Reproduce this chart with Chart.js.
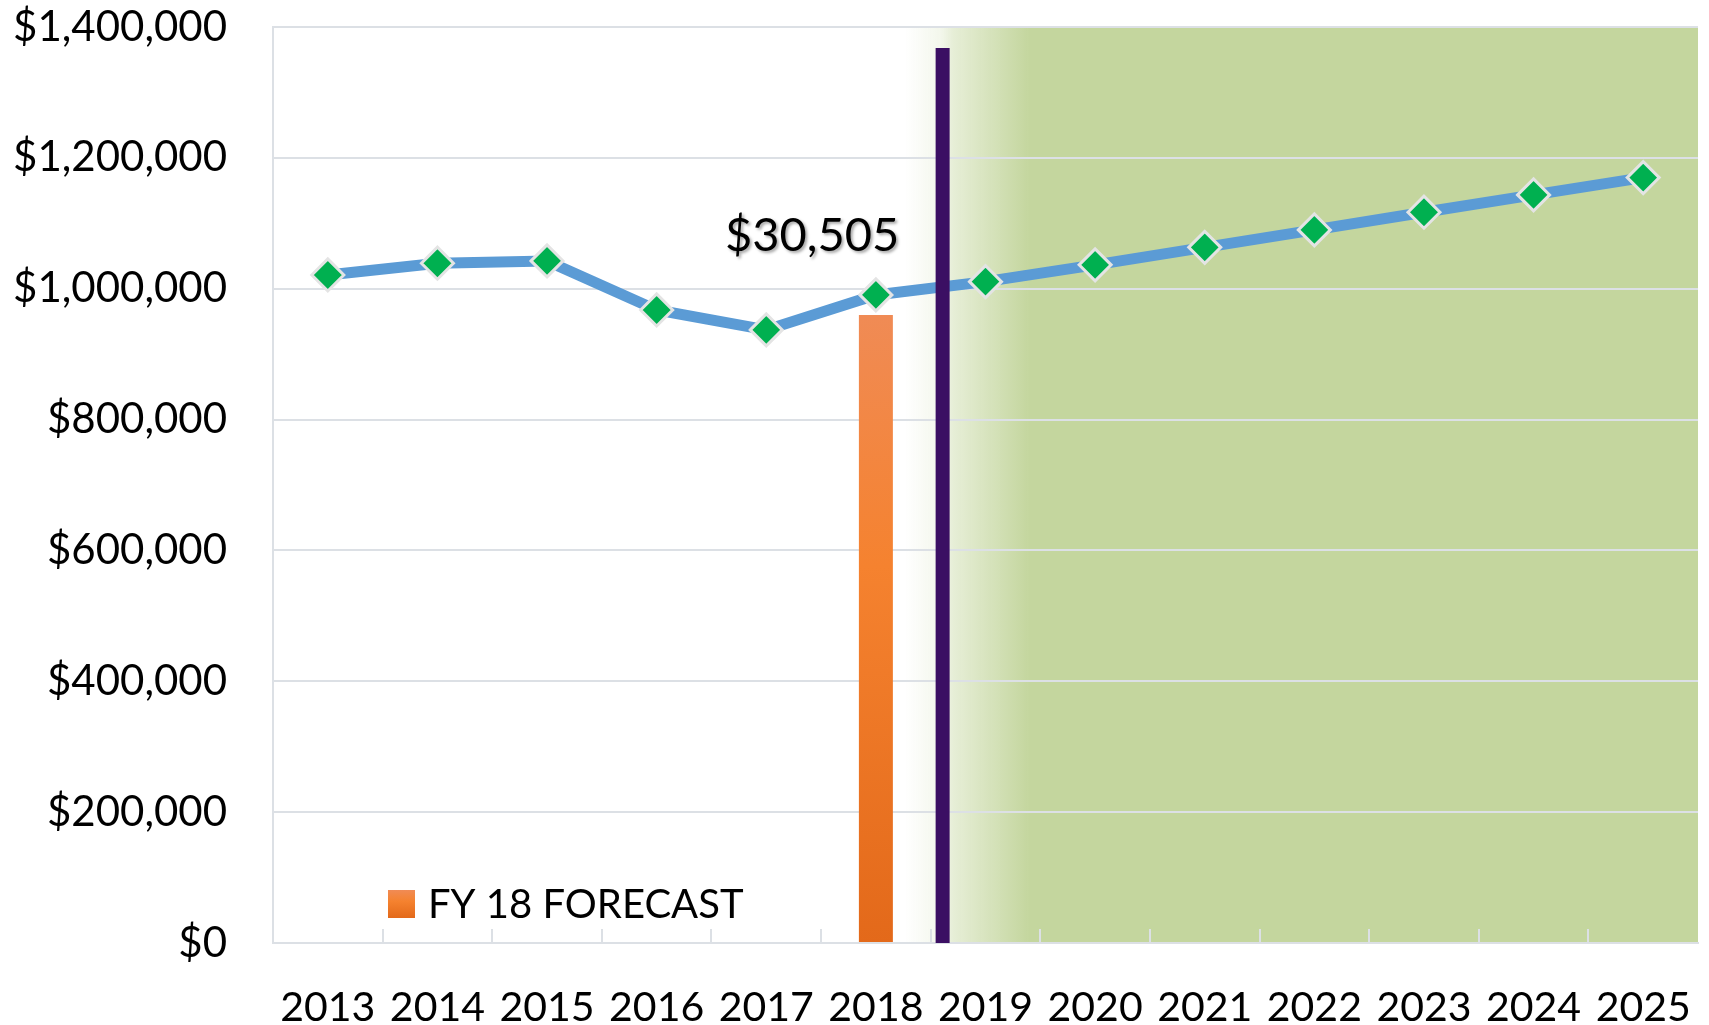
<!DOCTYPE html>
<html>
<head>
<meta charset="utf-8">
<script src="https://cdn.jsdelivr.net/npm/chart.js@4.4.1/dist/chart.umd.min.js"></script>
<style>
html,body{margin:0;padding:0;background:#ffffff;}
canvas{display:block;}
</style>
</head>
<body>
<canvas id="c" width="1709" height="1025"></canvas>
<script>
// ---- data ----
const years = ['2013','2014','2015','2016','2017','2018','2019','2020','2021','2022','2023','2024','2025'];
const revenue = [1021000, 1039000, 1042500, 967500, 937000, 990500, 1010800, 1036500, 1063200, 1089900, 1116900, 1143400, 1169800];
const forecastLabel = 'FY 18 FORECAST';
const forecast = [null, null, null, null, null, 960000, null, null, null, null, null, null, null];
const gapLabel = '$30,505';
const gapAnchor = [4.22, 1080500];          // [category position, value]
const dividerX = [5.56, 5.56];
const dividerY = [0, 1368000];
const yTickValues = [0, 200000, 400000, 600000, 800000, 1000000, 1200000, 1400000];

// ---- styles ----
const FONT = 'Lato, "Open Sans", sans-serif';
const GRID = '#DCE0E5';
const GREEN = [196, 214, 158];
// forecast shading: [category position, opacity]
const shadeStops = [[5.17, 0], [5.54, 0.2], [5.67, 0.42], [6.07, 0.71], [6.38, 0.95], [6.45, 1]];

function fmtMoney(v) { return '$' + Math.round(v).toLocaleString('en-US'); }

function orangeGradient(ctx, top, bottom) {
  const g = ctx.createLinearGradient(0, top, 0, bottom);
  g.addColorStop(0, '#F08B55');
  g.addColorStop(0.4, '#F5822F');
  g.addColorStop(1, '#E3691A');
  return g;
}

const shadePlugin = {
  id: 'shade',
  beforeDraw(chart) {
    const ca = chart.chartArea; if (!ca) return;
    const x2 = chart.scales.x2;
    const xs = x2.getPixelForValue(shadeStops[0][0]);
    const ctx = chart.ctx;
    ctx.save();
    const g = ctx.createLinearGradient(xs, 0, ca.right, 0);
    const c = GREEN.join(',');
    for (const [pos, a] of shadeStops) {
      const f = (x2.getPixelForValue(pos) - xs) / (ca.right - xs);
      g.addColorStop(Math.min(1, Math.max(0, f)), `rgba(${c},${a})`);
    }
    g.addColorStop(1, `rgba(${c},1)`);
    ctx.fillStyle = g;
    ctx.fillRect(xs, ca.top, ca.right - xs, ca.bottom - ca.top);
    ctx.restore();
  },
  beforeDatasetsDraw(chart) {
    const ca = chart.chartArea;
    const x = chart.scales.x;
    const ctx = chart.ctx;
    ctx.save();
    ctx.strokeStyle = GRID;
    ctx.lineWidth = 2;
    for (let i = 1; i < years.length; i++) {
      const px = Math.round((x.getPixelForTick(i - 1) + x.getPixelForTick(i)) / 2);
      ctx.beginPath();
      ctx.moveTo(px, ca.bottom);
      ctx.lineTo(px, ca.bottom - 14);
      ctx.stroke();
    }
    ctx.restore();
  },
  afterDraw(chart) {
    const ca = chart.chartArea;
    const ctx = chart.ctx;
    const x2 = chart.scales.x2, y = chart.scales.y;
    ctx.save();
    ctx.font = '47px ' + FONT;
    ctx.textAlign = 'center';
    ctx.textBaseline = 'middle';
    ctx.fillStyle = '#000000';
    ctx.shadowColor = 'rgba(0,0,0,0.35)';
    ctx.shadowBlur = 3;
    ctx.shadowOffsetX = 2;
    ctx.shadowOffsetY = 2;
    ctx.fillText(gapLabel, x2.getPixelForValue(gapAnchor[0]), y.getPixelForValue(gapAnchor[1]));
    ctx.restore();
    ctx.save();
    const lx = ca.left + 115, ly = ca.bottom - 53;
    ctx.fillStyle = orangeGradient(ctx, ly, ly + 28);
    ctx.fillRect(lx, ly, 27, 28);
    ctx.font = '40px ' + FONT;
    ctx.fillStyle = '#000000';
    ctx.textAlign = 'left';
    ctx.textBaseline = 'middle';
    ctx.fillText(forecastLabel, lx + 40, ly + 15);
    ctx.restore();
  }
};

const chart = new Chart(document.getElementById('c'), {
  type: 'bar',
  data: {
    labels: years,
    datasets: [
      {
        type: 'line', label: 'divider',
        data: dividerX.map((xv, i) => ({ x: xv, y: dividerY[i] })),
        xAxisID: 'x2', yAxisID: 'y',
        borderColor: '#3B0F63', borderWidth: 14, borderCapStyle: 'butt',
        pointRadius: 0, fill: false, order: 0
      },
      {
        type: 'line', label: 'Revenue',
        data: revenue,
        xAxisID: 'x', yAxisID: 'y',
        borderColor: '#5B9BD5', borderWidth: 11, tension: 0,
        pointStyle: 'rectRot', pointRadius: 16,
        pointBackgroundColor: '#00B050', pointBorderColor: '#E4E4E4', pointBorderWidth: 3,
        fill: false, order: 1
      },
      {
        type: 'bar', label: forecastLabel,
        data: forecast,
        xAxisID: 'x', yAxisID: 'y',
        backgroundColor: (c) => {
          const ch = c.chart; const ca = ch.chartArea;
          if (!ca) return '#F07A30';
          const top = ch.scales.y.getPixelForValue(Math.max(...forecast.filter(v => v !== null)));
          return orangeGradient(ch.ctx, top, ca.bottom);
        },
        borderWidth: 0, grouped: false,
        barPercentage: 0.31, categoryPercentage: 1.0,
        order: 2
      }
    ]
  },
  options: {
    responsive: false,
    animation: false,
    devicePixelRatio: 1,
    layout: { autoPadding: false, padding: { top: 27, right: 11, left: 0, bottom: 0 } },
    plugins: { legend: { display: false }, tooltip: { enabled: false } },
    scales: {
      x: {
        type: 'category', offset: true,
        grid: { display: true, drawOnChartArea: false, drawTicks: true, tickLength: 40, tickColor: 'rgba(0,0,0,0)' },
        border: { display: true, color: GRID, width: 2 },
        ticks: { color: '#000000', font: { family: FONT, size: 41 }, padding: 0, maxRotation: 0, autoSkip: false },
        afterFit(s) { s.height = 82; }
      },
      x2: { type: 'linear', display: false, min: -0.5, max: 12.5 },
      y: {
        type: 'linear',
        min: yTickValues[0],
        max: yTickValues[yTickValues.length - 1],
        afterBuildTicks(s) { s.ticks = yTickValues.map(v => ({ value: v })); },
        grid: { color: GRID, lineWidth: 2, drawTicks: true, tickLength: 46, tickColor: 'rgba(0,0,0,0)' },
        border: { display: true, color: GRID, width: 2 },
        ticks: { color: '#000000', font: { family: FONT, size: 42 }, padding: 0, callback: (v) => fmtMoney(v) },
        afterFit(s) { s.width = 273; }
      }
    }
  },
  plugins: [shadePlugin]
});
</script>
</body>
</html>
